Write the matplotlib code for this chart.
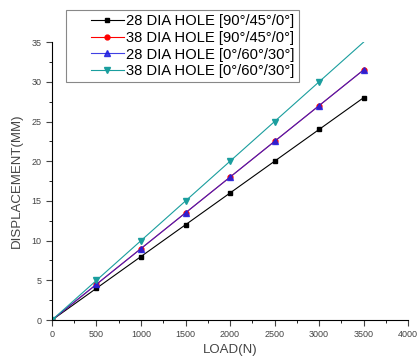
import matplotlib
matplotlib.use("Agg")
import matplotlib.pyplot as plt
from matplotlib.ticker import MultipleLocator
from matplotlib.legend_handler import HandlerLine2D

plt.rcParams['font.family'] = ['Liberation Sans', 'DejaVu Sans']

load = [0, 500, 1000, 1500, 2000, 2500, 3000, 3500]
d28_90 = [0, 4, 8, 12, 16, 20, 24, 28]
d38_90 = [0, 4.5, 9, 13.5, 18, 22.5, 27, 31.5]
d28_0 = [0, 4.5, 9, 13.5, 18, 22.5, 27, 31.5]
d38_0 = [0, 5, 10, 15, 20, 25, 30, 35]
labels = ["28 DIA HOLE [90\u00b0/45\u00b0/0\u00b0]", "38 DIA HOLE [90\u00b0/45\u00b0/0\u00b0]",
          "28 DIA HOLE [0\u00b0/60\u00b0/30\u00b0]", "38 DIA HOLE [0\u00b0/60\u00b0/30\u00b0]"]


class ShiftedHandler(HandlerLine2D):
    def create_artists(self, legend, orig_handle, xdescent, ydescent, width, height, fontsize, trans):
        off = width * 0.37
        return super().create_artists(legend, orig_handle, xdescent - off, ydescent,
                                      width - off, height, fontsize, trans)


fig = plt.figure(figsize=(4.19, 3.6), dpi=100)
ax = fig.add_axes([0.124, 0.111, 0.850, 0.772])

lines = []
lines += ax.plot(load, d28_90, color="black", marker="s", ms=3.5, lw=0.8, label=labels[0])
lines += ax.plot(load, d38_90, color="red", marker="o", ms=3.5, lw=0.8, label=labels[1])
lines += ax.plot(load, d28_0, color="#2020e0", marker="^", ms=4.5, lw=0.8, label=labels[2], alpha=0.85)
lines += ax.plot(load, d38_0, color="#1a9e9e", marker="v", ms=4.5, lw=0.8, label=labels[3], markevery=slice(0, 7))

ax.set_xlim(0, 4000)
ax.set_ylim(0, 35)
ax.xaxis.set_major_locator(MultipleLocator(500))
ax.xaxis.set_minor_locator(MultipleLocator(250))
ax.yaxis.set_major_locator(MultipleLocator(5))
ax.yaxis.set_minor_locator(MultipleLocator(2.5))
ax.spines["top"].set_visible(False)
ax.spines["right"].set_visible(False)
ax.tick_params(which="major", direction="out", length=4, width=0.8, labelsize=6.5, colors="#444444")
ax.tick_params(which="minor", direction="out", length=2, width=0.6)
ax.set_xlabel("LOAD(N)", fontsize=9.5, color="#444444", labelpad=3)
ax.set_ylabel("DISPLACEMENT(MM)", fontsize=9.5, color="#444444", labelpad=6)

leg = fig.legend(handles=lines, loc="upper left", bbox_to_anchor=(0.158, 0.972), fontsize=10.6,
                 handlelength=3.65, handletextpad=0.1, borderpad=0.3, labelspacing=0.17,
                 borderaxespad=0, fancybox=False, framealpha=1, edgecolor="#888888",
                 handler_map={l: ShiftedHandler() for l in lines})
leg.get_frame().set_linewidth(0.8)

fig.savefig("out.png", dpi=100)
